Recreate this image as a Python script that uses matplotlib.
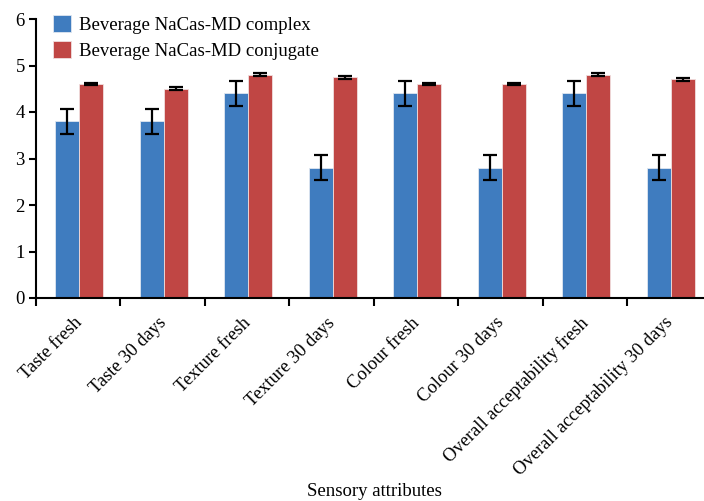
import numpy as np
import matplotlib
matplotlib.use('Agg')
import matplotlib.pyplot as plt

plt.rcParams['font.family'] = 'Liberation Serif'

# data
categories = ['Taste fresh', 'Taste 30 days', 'Texture fresh', 'Texture 30 days',
              'Colour fresh', 'Colour 30 days', 'Overall acceptability fresh',
              'Overall acceptability 30 days']
complex_mean = [3.8, 3.8, 4.4, 2.8, 4.4, 2.8, 4.4, 2.8]
complex_err = [0.27, 0.27, 0.27, 0.27, 0.27, 0.27, 0.27, 0.27]
conj_mean = [4.6, 4.5, 4.8, 4.75, 4.6, 4.6, 4.8, 4.7]
conj_err = [0.03, 0.03, 0.03, 0.03, 0.03, 0.03, 0.03, 0.03]

blue = '#3f7cbf'
red = '#c04644'

fig = plt.figure(figsize=(7.04, 5.01), dpi=100)
ax = fig.add_axes([36/704, 1-298/501, 676/704, (298-19)/501])

x = np.arange(len(categories)) + 0.51
w = 0.284
ekw = dict(elinewidth=1.6, capthick=1.6, ecolor='black')
ax.bar(x - w/2, complex_mean, w, color=blue, edgecolor='#dfe6f0', linewidth=0.6,
       yerr=complex_err, capsize=5, error_kw=ekw, label='Beverage NaCas-MD complex')
ax.bar(x + w/2, conj_mean, w, color=red, edgecolor='#f0dede', linewidth=0.6,
       yerr=conj_err, capsize=5, error_kw=ekw, label='Beverage NaCas-MD conjugate')

ax.set_xlim(0, 8)
ax.set_ylim(0, 6)
ax.set_yticks(range(7))
ax.set_xticks(np.arange(8))
ax.set_xticklabels([])
ax.set_xticks(x, minor=True)
ax.set_xticklabels(categories, minor=True, rotation=45, ha='right', va='center',
                   rotation_mode='anchor', fontsize=13.3)
ax.tick_params(axis='x', which='minor', length=0, pad=16)
ax.tick_params(axis='x', which='major', length=6, width=1.5, direction='out')
ax.tick_params(axis='y', length=5, width=1.5, labelsize=13.5, pad=3)
for s in ['top', 'right']:
    ax.spines[s].set_visible(False)
for s in ['left', 'bottom']:
    ax.spines[s].set_linewidth(1.5)

ax.set_xlabel('Sensory attributes', fontsize=13.5)
ax.xaxis.set_label_coords(0.5, -0.662)

ax.legend(loc='upper left', bbox_to_anchor=(0.0, 1.075), frameon=False,
          fontsize=13.5, handlelength=0.98, handleheight=1.0, handletextpad=0.4,
          labelspacing=0.4)

fig.savefig('out.png', dpi=100)
